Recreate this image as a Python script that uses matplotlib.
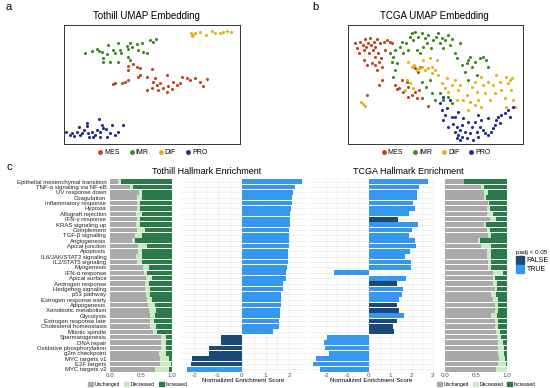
import matplotlib
matplotlib.use("Agg")
import matplotlib.pyplot as plt
from matplotlib.lines import Line2D
from matplotlib.patches import Patch

plt.rcParams['font.family'] = ['Liberation Sans', 'DejaVu Sans']
plt.rcParams['axes.unicode_minus'] = False

# ---- UMAP data (panel a, b) ----
subtypes = ['MES', 'IMR', 'DIF', 'PRO']
subtype_colors = {'MES': '#c0441f', 'IMR': '#3c8a22', 'DIF': '#dcb41a', 'PRO': '#1f2f8a'}

tothill_x = {
    'DIF': [57.2, 58.0, 58.5, 60.0, 61.8, 63.5, 64.5, 66.0, 66.8, 68.0, 69.2, 57.5],
    'IMR': [25.5, 27.5, 29.0, 29.8, 30.5, 32.0, 32.5, 34.0, 34.5, 35.5, 36.0, 36.3, 38.0, 38.5, 38.5,
            39.0, 39.5, 41.0, 41.5, 42.5, 43.0, 44.0, 45.0, 46.0, 46.8, 31.0, 33.0, 35.5, 31.0, 39.0],
    'MES': [38.5, 40.0, 41.0, 38.5, 42.0, 45.5, 34.5, 36.5, 37.5, 38.5, 34.0, 42.0, 41.5, 44.0, 46.5,
            44.0, 46.0, 47.0, 48.0, 49.0, 50.0, 50.5, 52.0, 51.5, 53.0, 54.0, 54.5, 56.0, 57.0, 58.5,
            60.0, 61.0, 62.0, 47.5, 45.5, 50.0],
    'PRO': [19.8, 21.0, 21.5, 22.2, 23.0, 23.8, 24.5, 25.2, 26.0, 26.2, 26.8, 27.5, 28.0, 28.5, 29.2,
            29.8, 30.0, 30.5, 31.0, 31.8, 32.2, 33.0, 33.5, 34.5, 35.5, 37.0, 30.0, 26.5, 24.0],
}
tothill_y = {
    'DIF': [35.0, 34.4, 35.2, 35.3, 34.4, 35.7, 35.0, 35.2, 35.4, 35.6, 35.5, 34.2],
    'IMR': [29.2, 29.8, 30.2, 29.8, 29.5, 28.7, 31.5, 30.0, 29.0, 32.0, 30.0, 29.2, 31.3, 30.2, 28.0,
            32.2, 31.0, 31.8, 30.0, 32.0, 29.5, 29.0, 33.0, 32.5, 33.2, 27.5, 26.5, 26.3, 26.5, 27.0],
    'MES': [25.3, 25.7, 25.0, 24.0, 24.5, 24.2, 20.2, 20.2, 20.5, 21.0, 19.8, 22.5, 21.8, 22.0, 21.5,
            18.0, 20.5, 19.5, 20.0, 18.5, 22.5, 19.2, 20.5, 18.2, 19.5, 20.0, 22.0, 21.5, 21.0, 21.5,
            20.5, 19.2, 21.3, 18.0, 18.5, 17.5],
    'PRO': [5.5, 4.5, 5.2, 4.2, 5.5, 7.0, 5.2, 6.0, 7.2, 8.2, 4.0, 5.5, 3.8, 4.5, 6.0,
            9.2, 5.5, 7.5, 6.5, 6.2, 4.0, 5.0, 7.5, 4.5, 5.5, 7.5, 4.0, 5.2, 4.5],
}

tcga_x = {
    'MES': [24.0, 24.5, 25.0, 25.5, 26.2, 26.5, 26.8, 27.2, 27.8, 28.0, 28.5, 28.8, 29.2, 29.5, 29.8,
            30.0, 30.5, 30.8, 31.0, 31.5, 31.8, 32.0, 32.5, 33.0, 33.5, 34.5, 35.0, 30.0, 30.5, 29.0,
            26.5, 27.5, 32.0, 31.2, 27.5, 36.0, 36.5, 37.2, 38.0, 38.5, 39.5, 40.0, 41.0, 42.0, 42.5,
            43.2, 44.0, 42.0, 43.0, 43.5, 46.0, 40.0],
    'IMR': [34.5, 35.0, 35.5, 36.0, 36.5, 37.5, 38.0, 38.5, 39.2, 39.8, 40.5, 41.0, 41.5, 42.0, 42.5,
            43.0, 43.5, 44.0, 44.5, 45.0, 45.5, 46.0, 46.8, 47.5, 48.2, 49.0, 49.5, 50.0, 50.5, 51.0,
            52.0, 52.5, 53.0, 54.0, 55.5, 44.0, 45.2, 46.5, 47.0, 48.0, 49.5, 50.5, 52.0, 53.0, 54.5,
            56.0, 57.0, 57.8, 58.5, 59.0, 60.0, 60.5, 61.5, 62.5, 63.5, 64.0, 58.0, 36.0, 35.5, 57.5],
    'DIF': [25.8, 26.2, 26.8, 40.0, 41.0, 41.8, 42.5, 43.2, 44.0, 45.0, 46.0, 47.0, 48.0, 44.5, 46.5,
            48.5, 39.5, 40.5, 41.5, 39.0, 50.0, 51.0, 51.5, 52.0, 53.0, 54.0, 55.0, 55.5, 56.5, 57.5,
            58.5, 59.0, 60.0, 60.5, 61.0, 62.0, 62.5, 63.0, 64.0, 64.5, 65.5, 66.0, 66.5, 67.5, 68.0,
            69.0, 69.5, 70.0, 70.5, 71.0, 71.5, 72.0, 71.2, 69.5, 60.0, 58.0, 54.5, 62.0, 47.0, 49.0],
    'PRO': [49.5, 50.0, 51.0, 50.5, 51.5, 52.0, 53.0, 53.5, 54.0, 54.5, 55.0, 55.5, 56.0, 56.2, 57.0,
            57.5, 58.0, 56.5, 59.0, 60.0, 60.5, 61.0, 61.5, 62.0, 63.0, 64.0, 65.0, 65.5, 66.0, 66.5,
            67.0, 67.5, 68.0, 69.0, 70.0, 70.5, 71.5, 55.0, 54.0, 58.5, 62.5, 59.5, 55.5, 54.5, 64.0,
            61.0, 50.5, 52.5],
}
tcga_y = {
    'MES': [32.0, 30.5, 29.0, 32.5, 31.5, 30.0, 33.2, 31.0, 32.2, 29.0, 33.5, 31.5, 30.0, 32.5, 28.0,
            31.0, 33.2, 29.0, 26.5, 32.0, 27.5, 25.0, 32.5, 30.0, 33.0, 32.5, 32.0, 25.5, 24.0, 26.0,
            27.0, 25.5, 21.0, 19.5, 16.5, 19.5, 18.2, 18.5, 21.0, 17.5, 20.5, 19.0, 16.5, 17.5, 15.5,
            18.0, 15.5, 24.5, 23.5, 25.0, 13.2, 16.0],
    'IMR': [29.0, 26.5, 28.0, 30.0, 26.0, 31.0, 32.5, 29.0, 32.0, 30.0, 34.0, 35.0, 33.0, 35.5, 30.0,
            34.0, 29.0, 35.0, 31.0, 33.5, 32.0, 34.5, 30.5, 33.0, 34.0, 35.0, 32.0, 33.5, 30.5, 33.0,
            34.5, 31.5, 33.2, 29.0, 32.0, 20.5, 19.0, 21.0, 17.0, 15.0, 17.0, 15.0, 16.0, 14.0, 27.5,
            25.5, 23.5, 27.0, 28.0, 25.0, 26.5, 22.5, 27.5, 28.0, 27.0, 25.0, 21.0, 24.0, 22.0, 26.0],
    'DIF': [14.5, 13.8, 13.2, 26.5, 25.0, 25.5, 24.0, 24.5, 25.0, 24.0, 24.5, 25.0, 24.0, 27.0, 27.5,
            27.0, 21.0, 20.0, 18.5, 18.0, 20.0, 18.5, 21.5, 17.5, 19.5, 21.0, 18.0, 19.5, 15.0, 16.5,
            14.5, 19.0, 20.5, 17.5, 15.0, 22.0, 19.5, 17.0, 20.5, 15.0, 19.5, 17.0, 22.5, 20.5, 18.0,
            15.5, 22.0, 20.0, 21.0, 18.0, 15.0, 13.0, 21.5, 13.0, 13.5, 12.0, 15.0, 13.0, 23.0, 22.5],
    'PRO': [14.0, 12.0, 10.5, 9.0, 12.5, 7.0, 10.0, 7.8, 5.5, 7.0, 4.5, 6.0, 4.0, 7.5, 5.5,
            3.5, 8.5, 9.5, 7.0, 8.5, 5.5, 4.0, 7.0, 9.0, 5.0, 4.5, 5.5, 6.5, 7.5, 9.0,
            10.0, 8.0, 10.5, 11.0, 12.0, 10.0, 13.0, 11.5, 10.0, 5.0, 6.0, 3.0, 3.0, 3.5, 9.5,
            10.5, 16.0, 15.0],
}

# ---- Hallmark enrichment data (panel c) ----
pathways = [
    'Epithelial mesenchymal transition', 'TNF-α signaling via NF-κB', 'UV response down',
    'Coagulation', 'Inflammatory response', 'Hypoxia', 'Allograft rejection', 'IFN-γ response',
    'KRAS signaling up', 'Complement', 'TGF-β signaling', 'Angiogenesis', 'Apical junction',
    'Apoptosis', 'IL6/JAK/STAT3 signaling', 'IL2/STAT5 signaling', 'Myogenesis', 'IFN-α response',
    'Apical surface', 'Androgen response', 'Hedgehog signaling', 'p53 pathway',
    'Estrogen response early', 'Adipogenesis', 'Xenobiotic metabolism', 'Glycolysis',
    'Estrogen response late', 'Cholesterol homeostasis', 'Mitotic spindle', 'Spermatogenesis',
    'DNA repair', 'Oxidative phosphorylation', 'g2m checkpoint', 'MYC targets v1', 'E2F targets',
    'MYC targets v2',
]

tothill_nes = [2.52, 2.24, 2.14, 2.11, 2.11, 2.07, 2.04, 2.03, 2.01, 2.00, 2.00, 1.99, 1.97,
               1.96, 1.94, 1.93, 1.92, 1.86, 1.85, 1.75, 1.72, 1.66, 1.65, 1.64, 1.61, 1.59,
               1.58, 1.57, 1.33, -0.87, -0.87, -1.36, -1.36, -2.10, -2.15, -2.31]
tothill_sig = [True] * 29 + [False] * 6 + [True]

tcga_nes = [2.78, 2.34, 2.25, 2.27, 2.05, 2.16, 1.89, 1.38, 2.28, 2.00, 1.89, 2.14, 2.20,
            1.94, 1.69, 1.98, 1.97, -1.64, 1.73, 1.33, 1.58, 1.53, 1.42, 1.33, 1.39, 1.66,
            1.31, 1.13, 1.19, -1.94, -2.11, -2.06, -1.86, -2.48, -2.61, -2.31]
tcga_sig = [True] * 36
for i in [7, 19, 23, 24, 26, 27, 28]:
    tcga_sig[i] = False

tothill_unchanged = [0.13, 0.32, 0.47, 0.44, 0.43, 0.44, 0.42, 0.44, 0.42, 0.44, 0.40, 0.35,
                     0.45, 0.45, 0.42, 0.43, 0.53, 0.55, 0.58, 0.57, 0.56, 0.58, 0.59, 0.61,
                     0.63, 0.64, 0.64, 0.65, 0.70, 0.83, 0.82, 0.83, 0.79, 0.80, 0.80, 0.72]
tothill_decreased = [0.04, 0.05, 0.05, 0.07, 0.06, 0.04, 0.10, 0.05, 0.06, 0.12, 0.11, 0.06,
                     0.14, 0.07, 0.09, 0.09, 0.10, 0.05, 0.09, 0.06, 0.08, 0.07, 0.09, 0.11,
                     0.11, 0.08, 0.07, 0.10, 0.06, 0.08, 0.08, 0.08, 0.12, 0.16, 0.18, 0.24]
tcga_unchanged = [0.30, 0.58, 0.63, 0.63, 0.69, 0.68, 0.68, 0.72, 0.63, 0.68, 0.69, 0.53,
                  0.58, 0.68, 0.68, 0.70, 0.70, 0.77, 0.77, 0.78, 0.80, 0.75, 0.78, 0.81,
                  0.81, 0.74, 0.81, 0.81, 0.82, 0.84, 0.85, 0.85, 0.86, 0.88, 0.85, 0.82]
tcga_decreased = [0.01, 0.05, 0.07, 0.03, 0.02, 0.04, 0.10, 0.10, 0.03, 0.05, 0.05, 0.04,
                  0.16, 0.06, 0.07, 0.05, 0.05, 0.16, 0.04, 0.06, 0.04, 0.07, 0.07, 0.05,
                  0.04, 0.10, 0.04, 0.04, 0.07, 0.06, 0.08, 0.11, 0.10, 0.09, 0.13, 0.18]

col_unch, col_dec, col_inc = '#a9a9a9', '#c9ebc2', '#2b7a49'
col_true, col_false = '#3597ee', '#1c4a78'

W, H = 550, 388
fig = plt.figure(figsize=(5.5, 3.88), dpi=100)


def box(x0, y0, x1, y1):
    return [x0 / W, 1 - y1 / H, (x1 - x0) / W, (y1 - y0) / H]


def umap_panel(rect, xs, ys, xlim, ylim, title, title_x):
    ax = fig.add_axes(rect)
    for s in subtypes:
        ax.scatter(xs[s], ys[s], s=5, color=subtype_colors[s], linewidths=0)
    ax.set_xlim(*xlim)
    ax.set_ylim(*ylim)
    ax.set_xticks([])
    ax.set_yticks([])
    for sp in ax.spines.values():
        sp.set_linewidth(0.7)
        sp.set_color('#333333')
    fig.text(title_x / W, 1 - 16 / H, title, ha='center', va='center', fontsize=7)
    handles = [Line2D([], [], marker='o', ls='', ms=2.5, color=subtype_colors[s], label=s)
               for s in subtypes]
    ax.legend(handles=handles, loc='upper center', bbox_to_anchor=(0.5, -0.005), ncol=4,
              frameon=False, fontsize=5, handletextpad=0.1, columnspacing=1.2,
              handlelength=1.0, borderpad=0.2)
    return ax


umap_panel(box(64, 25, 240, 144), tothill_x, tothill_y, (19.2, 72.0), (1.8, 37.5),
           'Tothill UMAP Embedding', 146)
umap_panel(box(348, 25, 523, 144), tcga_x, tcga_y, (21.8, 74.5), (1.8, 37.5),
           'TCGA UMAP Embedding', 434)

fig.text(9 / W, 1 - 7 / H, 'a', fontsize=8, ha='center', va='center')
fig.text(315 / W, 1 - 7 / H, 'b', fontsize=8, ha='center', va='center')
fig.text(9 / W, 1 - 167 / H, 'c', fontsize=8, ha='center', va='center')

rows = list(range(len(pathways)))
y0, y1 = 179, 372


def prop_panel(rect, unch, dec, show_labels, leg_x):
    ax = fig.add_axes(rect)
    inc = [1 - u - d for u, d in zip(unch, dec)]
    left2 = [u + d for u, d in zip(unch, dec)]
    ax.barh(rows, unch, height=0.85, color=col_unch)
    ax.barh(rows, dec, left=unch, height=0.85, color=col_dec)
    ax.barh(rows, inc, left=left2, height=0.85, color=col_inc)
    ax.set_xlim(-0.05, 1.05)
    ax.set_ylim(35.5, -0.5)
    ax.set_xticks([0, 0.5, 1.0])
    ax.set_xticklabels(['0.0', '0.5', '1.0'])
    ax.tick_params(axis='x', length=0, pad=0.5, labelsize=4.5, colors='#4d4d4d')
    if show_labels:
        ax.set_yticks(rows)
        ax.set_yticklabels(pathways)
        ax.tick_params(axis='y', length=0, pad=0.5, labelsize=4.3, colors='#222222')
    else:
        ax.set_yticks([])
    for sp in ax.spines.values():
        sp.set_visible(False)
    handles = [Patch(color=col_unch, label='Unchanged'), Patch(color=col_dec, label='Decreased'),
               Patch(color=col_inc, label='Increased')]
    ax.legend(handles=handles, loc='upper center', bbox_to_anchor=(leg_x, -0.035), ncol=3,
              frameon=False, fontsize=3.5, handlelength=1.0, handleheight=0.6,
              handletextpad=0.3, columnspacing=0.9, borderpad=0.1)
    return ax


def nes_panel(rect, nes, sig, xlim, ticks):
    ax = fig.add_axes(rect)
    colors = [col_true if s else col_false for s in sig]
    ax.barh(rows, nes, height=0.88, color=colors, zorder=2)
    ax.set_xlim(*xlim)
    ax.set_ylim(35.5, -0.5)
    ax.set_xticks(ticks)
    ax.set_xticks([t + 0.5 for t in ticks[:-1]], minor=True)
    ax.set_yticks(rows)
    ax.set_yticklabels([])
    ax.grid(True, which='both', color='#ececec', linewidth=0.5, zorder=0)
    ax.tick_params(axis='both', which='both', length=0)
    ax.tick_params(axis='x', pad=0.5, labelsize=4.5, colors='#4d4d4d')
    ax.set_xlabel('Normalized Enrichment Score', fontsize=4.5, labelpad=0.5)
    for sp in ax.spines.values():
        sp.set_visible(False)
    return ax


prop_panel(box(107, y0, 175, y1), tothill_unchanged, tothill_decreased, True, 0.45)
nes_panel(box(181, y0, 306, y1), tothill_nes, tothill_sig, (-2.55, 2.7), [-2, -1, 0, 1, 2])
nes_panel(box(308, y0, 434, y1), tcga_nes, tcga_sig, (-2.85, 3.05), [-2, -1, 0, 1, 2, 3])
prop_panel(box(442, y0, 510, y1), tcga_unchanged, tcga_decreased, False, 0.65)

fig.text(207 / W, 1 - 172 / H, 'Tothill Hallmark Enrichment', fontsize=6.5, ha='center', va='center')
fig.text(408 / W, 1 - 172 / H, 'TCGA Hallmark Enrichment', fontsize=6.5, ha='center', va='center')

sig_handles = [Patch(color=col_false, label='FALSE'), Patch(color=col_true, label='TRUE')]
leg = fig.legend(handles=sig_handles, title='padj < 0.05', loc='upper left',
                 bbox_to_anchor=(512 / W, 1 - 246 / H), frameon=False, fontsize=5,
                 title_fontsize=4.5, handlelength=1.1, handleheight=1.3, handletextpad=0.4,
                 labelspacing=0.15, borderpad=0.1)
leg._legend_box.align = 'left'

fig.savefig('out.png', dpi=100)
